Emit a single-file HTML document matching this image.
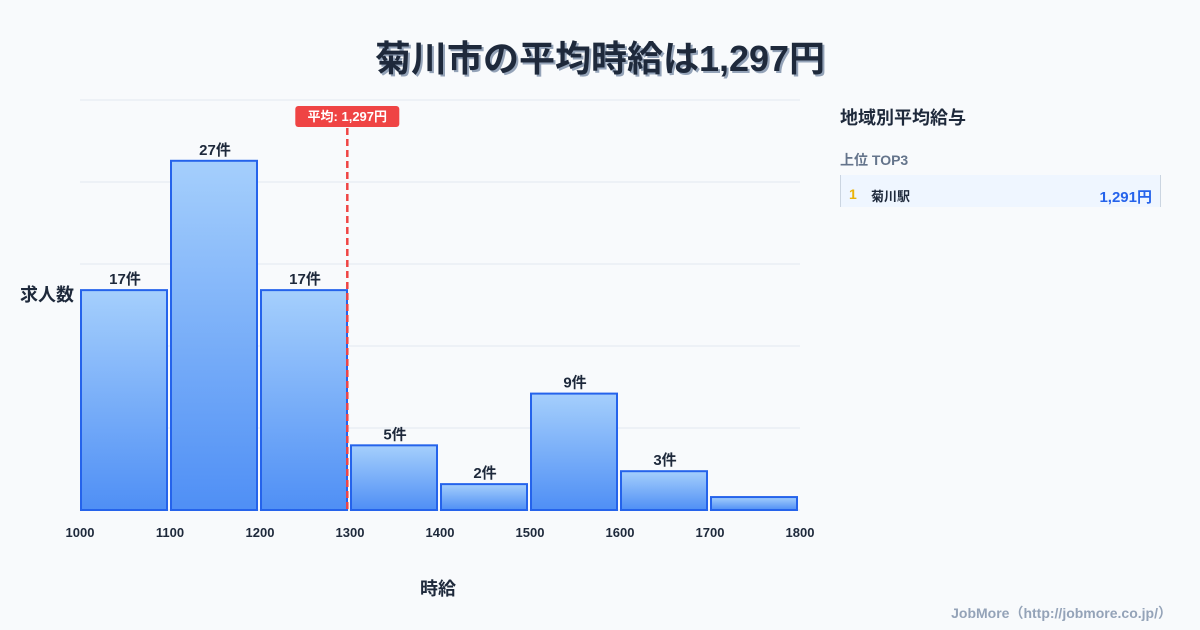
<!DOCTYPE html>
<html><head><meta charset="utf-8"><style>
body{margin:0;width:1200px;height:630px;background:#f8fafc;font-family:"Liberation Sans","Noto Sans CJK JP",sans-serif;overflow:hidden;position:relative}
.t{position:absolute;font-weight:bold}
</style></head><body>
<div class="t" style="left:0;width:1200px;top:30px;text-align:center;font-size:36px;color:#1e293b;text-shadow:2px 2px 0 #94a3b8">菊川市の平均時給は1,297円</div>
<svg id="c" width="1200" height="630" style="position:absolute;left:0;top:0">
<defs><linearGradient id="g" x1="0" y1="0" x2="0" y2="1"><stop offset="0" stop-color="#a5cffc"/><stop offset="1" stop-color="#4f8ff5"/></linearGradient></defs>
</svg>
<div class="t" style="left:20px;top:281px;font-size:18px;color:#1e293b">求人数</div>
<div class="t" style="left:420px;top:575px;font-size:18px;color:#1e293b">時給</div>
<div class="t" style="left:840px;top:104px;font-size:18px;color:#1e293b">地域別平均給与</div>
<div class="t" style="left:840px;top:150px;font-size:14px;color:#64748b">上位 TOP3</div>
<div style="position:absolute;left:840px;top:175px;width:319px;height:32px;background:#eff6ff;border-left:1px solid #cbd5e1;border-right:1px solid #cbd5e1">
<span class="t" style="left:8px;top:11px;font-size:14px;color:#eab308">1</span>
<span class="t" style="left:30px;top:11px;font-size:13px;color:#1e293b">菊川駅</span>
<span class="t" style="right:8px;top:11px;font-size:15px;color:#2563eb">1,291円</span></div>
<div class="t" style="right:28px;top:603px;font-size:14px;color:#94a3b8">JobMore（http://jobmore.co.jp/）</div>
<script>
const bins=[1000,1100,1200,1300,1400,1500,1600,1700];
const counts=[17,27,17,5,2,9,3,1];
const xTicks=[1000,1100,1200,1300,1400,1500,1600,1700,1800];
const avg=1297;
const yMax=31.7;
const NS="http://www.w3.org/2000/svg",s=document.getElementById('c');
const X=v=>80+(v-1000)*0.9, Y=v=>510-v/yMax*410;
function el(t,a,p){const e=document.createElementNS(NS,t);for(const k in a)e.setAttribute(k,a[k]);(p||s).appendChild(e);return e;}
for(let i=0;i<6;i++){const g=el('line',{x1:80,x2:800,y1:100+i*82,y2:100+i*82,stroke:'#e2e8f0'});

}
bins.forEach((b,i)=>{const r=el('rect',{x:X(b)+1,y:Y(counts[i]),width:86,height:510-Y(counts[i]),fill:'url(#g)',stroke:'#2563eb','stroke-width':2});


if(counts[i]>1){const t=el('text',{x:X(b)+45,y:Y(counts[i])-6,'text-anchor':'middle','font-size':15,'font-weight':'bold',fill:'#1e293b'});t.textContent=counts[i]+'件';

}});
xTicks.forEach(v=>{const t=el('text',{x:X(v),y:537,'text-anchor':'middle','font-size':13,'font-weight':'bold',fill:'#1e293b'});t.textContent=v;

});
const l=el('line',{x1:X(avg),x2:X(avg),y1:128,y2:510,stroke:'#ef4444','stroke-width':2.5,'stroke-dasharray':'7,4'});


const bg=el('rect',{x:X(avg)-52,y:106,width:104,height:21,rx:3,fill:'#ef4444'});


const at=el('text',{x:X(avg),y:121,'text-anchor':'middle','font-size':13,'font-weight':'bold',fill:'#fff'});at.textContent='平均: 1,297円';


</script>
</body></html>
